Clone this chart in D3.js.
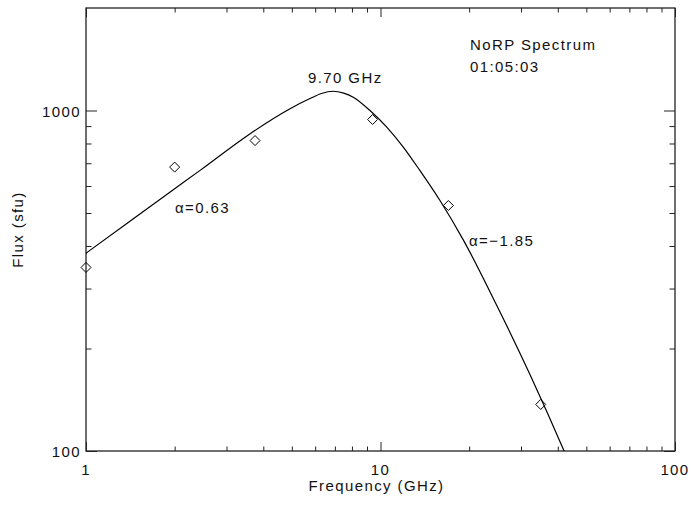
<!DOCTYPE html>
<html>
<head>
<meta charset="utf-8">
<script src="https://cdn.jsdelivr.net/npm/d3@7"></script>
<style>
  body { margin: 0; background: #fff; }
  text { font-family: "Liberation Sans", Arial, sans-serif; font-size: 15px; letter-spacing: 1.4px; fill: #111; }
</style>
</head>
<body>
<div id="chart"></div>
<script>
// observed NoRP fluxes
var freqObs = [1, 2, 3.75, 9.4, 17, 35];
var fluxObs = [346, 682, 816, 941, 526, 137];

// fitted spectrum
var fitFreq = [1, 1.41, 2, 2.44, 3.61, 4.93, 5.76, 6.3, 6.9, 7.5, 8.08, 9.21, 10.5, 11.95, 13.6, 15.9, 19.1, 24.8, 32.2, 41.8, 44];
var fitFlux = [381, 473, 589, 667, 855, 1012, 1084, 1122, 1139, 1125, 1094, 1000, 894, 781, 667, 545, 417, 268, 167.5, 101, 91];

// axis ticks
var xMajor = [1, 10, 100];
var xMinor = [2, 3, 4, 5, 6, 7, 8, 9, 20, 30, 40, 50, 60, 70, 80, 90];
var yMajor = [100, 1000];
var yMinor = [200, 300, 400, 500, 600, 700, 800, 900];

// set the dimensions and margins of the graph
var margin = {top: 8, right: 16, bottom: 55, left: 86},
    width = 691 - margin.left - margin.right,
    height = 506 - margin.top - margin.bottom;

var svg = d3.select("#chart")
  .append("svg")
    .attr("width", 691)
    .attr("height", 506)
  .append("g")
    .attr("transform", "translate(" + margin.left + "," + margin.top + ")");

var x = d3.scaleLog().domain([1, 100]).range([0, width]);
var y = d3.scaleLog().domain([100, 2000]).range([height, 0]);

svg.append("clipPath").attr("id", "clip")
  .append("rect").attr("width", width).attr("height", height);

// ticks pointing inward on all four sides
var axisColor = "#222";
function ticks(gen, tx, ty, values, len) {
  var g = svg.append("g")
    .attr("transform", "translate(" + tx + "," + ty + ")")
    .call(gen.tickValues(values).tickSizeInner(-len).tickSizeOuter(0).tickFormat(""));
  g.select(".domain").remove();
  g.selectAll(".tick line").attr("stroke", axisColor).attr("stroke-width", 1);
}
ticks(d3.axisBottom(x), 0, height, xMajor, 9);
ticks(d3.axisBottom(x), 0, height, xMinor, 4.5);
ticks(d3.axisTop(x), 0, 0, xMajor, 9);
ticks(d3.axisTop(x), 0, 0, xMinor, 4.5);
ticks(d3.axisLeft(y), 0, 0, yMajor, 11);
ticks(d3.axisLeft(y), 0, 0, yMinor, 5.5);
ticks(d3.axisRight(y), width, 0, yMajor, 11);
ticks(d3.axisRight(y), width, 0, yMinor, 5.5);

// frame
svg.append("rect")
  .attr("width", width)
  .attr("height", height)
  .attr("fill", "none")
  .attr("stroke", axisColor)
  .attr("stroke-width", 1.3);

// tick labels
svg.selectAll("xlab")
  .data(xMajor)
  .enter()
  .append("text")
    .attr("x", function(d) { return x(d); })
    .attr("y", height + 24)
    .attr("text-anchor", "middle")
    .text(function(d) { return d; });
svg.selectAll("ylab")
  .data(yMajor)
  .enter()
  .append("text")
    .attr("x", -5)
    .attr("y", function(d) { return y(d) + 6; })
    .attr("text-anchor", "end")
    .text(function(d) { return d; });

// axis titles
svg.append("text")
  .attr("x", width / 2 - 4)
  .attr("y", height + 40)
  .attr("text-anchor", "middle")
  .text("Frequency (GHz)");
svg.append("text")
  .attr("transform", "translate(" + (-63) + "," + (height / 2) + ")rotate(-90)")
  .attr("text-anchor", "middle")
  .text("Flux (sfu)");

// fitted curve
var fit = fitFreq.map(function(f, i) { return [f, fitFlux[i]]; });
svg.append("path")
  .datum(fit)
  .attr("clip-path", "url(#clip)")
  .attr("fill", "none")
  .attr("stroke", "#000")
  .attr("stroke-width", 1.2)
  .attr("d", d3.line()
    .curve(d3.curveMonotoneX)
    .x(function(d) { return x(d[0]); })
    .y(function(d) { return y(d[1]); }));

// diamonds
svg.selectAll("obs")
  .data(freqObs)
  .enter()
  .append("path")
    .attr("transform", function(d, i) { return "translate(" + x(d) + "," + y(fluxObs[i]) + ")"; })
    .attr("d", "M0,-5L5,0L0,5L-5,0Z")
    .attr("fill", "none")
    .attr("stroke", "#000")
    .attr("stroke-width", 1);

// annotations
svg.append("text").attr("x", 384).attr("y", 42).text("NoRP Spectrum");
svg.append("text").attr("x", 384).attr("y", 64).text("01:05:03");
svg.append("text").attr("x", 222).attr("y", 75).text("9.70 GHz");
svg.append("text").attr("x", 89).attr("y", 205).text("\u03b1=0.63");
svg.append("text").attr("x", 383).attr("y", 238).text("\u03b1=\u22121.85");
</script>
</body>
</html>
